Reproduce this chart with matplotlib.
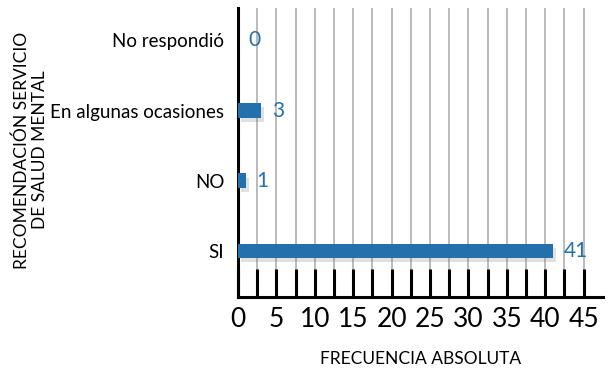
import matplotlib
matplotlib.use("Agg")
import matplotlib.pyplot as plt
import matplotlib.patheffects as pe
import numpy as np

# datos
categorias = ["SI", "NO", "En algunas ocasiones", "No respondió"]
frecuencias = [41, 1, 3, 0]
ticks_mayores = [0, 5, 10, 15, 20, 25, 30, 35, 40, 45]

fuente = "Lato"
azul = "#2470ad"

fig = plt.figure(figsize=(6.12, 3.71), dpi=100)
ax = fig.add_axes([0.389, 0.199, 0.596, 0.779])

y = np.arange(len(categorias))
barras = ax.barh(y, frecuencias, height=0.21, color=azul, zorder=3)
for b in barras:
    b.set_path_effects([pe.SimplePatchShadow(offset=(2, -3), shadow_rgbFace="#666666", alpha=0.2),
                        pe.Normal()])

for yi, v in zip(y, frecuencias):
    ax.text(v + 1.4, yi, str(v), color=azul, fontsize=15, family=fuente,
            va="center", ha="left", zorder=4)

ax.set_xlim(0, 47.5)
ax.set_ylim(-0.66, 3.46)
ax.set_xticks(np.arange(0, 47.5, 2.5), minor=True)
ax.set_xticks(ticks_mayores)
ax.set_xticklabels([str(t) for t in ticks_mayores], fontsize=19, family=fuente)
ax.tick_params(axis="x", which="both", direction="in", length=20, width=2.2,
               color="black", pad=7)
ax.set_yticks(y)
ax.set_yticklabels(categorias, fontsize=13.5, family=fuente)
ax.tick_params(axis="y", length=0, pad=10)

ax.grid(True, axis="x", which="both", color="#b5b5b5", linewidth=1.3, zorder=0)
ax.set_axisbelow(True)
for s in ["top", "right"]:
    ax.spines[s].set_visible(False)
for s in ["left", "bottom"]:
    ax.spines[s].set_linewidth(2.2)
    ax.spines[s].set_color("black")

ax.set_xlabel("FRECUENCIA ABSOLUTA", fontsize=12.5, family="Lato", labelpad=14)
fig.text(0.05, 0.596, "RECOMENDACIÓN SERVICIO\nDE SALUD MENTAL", rotation=90,
         ha="center", va="center", fontsize=12.5, family="Lato", linespacing=1.15)

fig.savefig("out.png", dpi=100)
